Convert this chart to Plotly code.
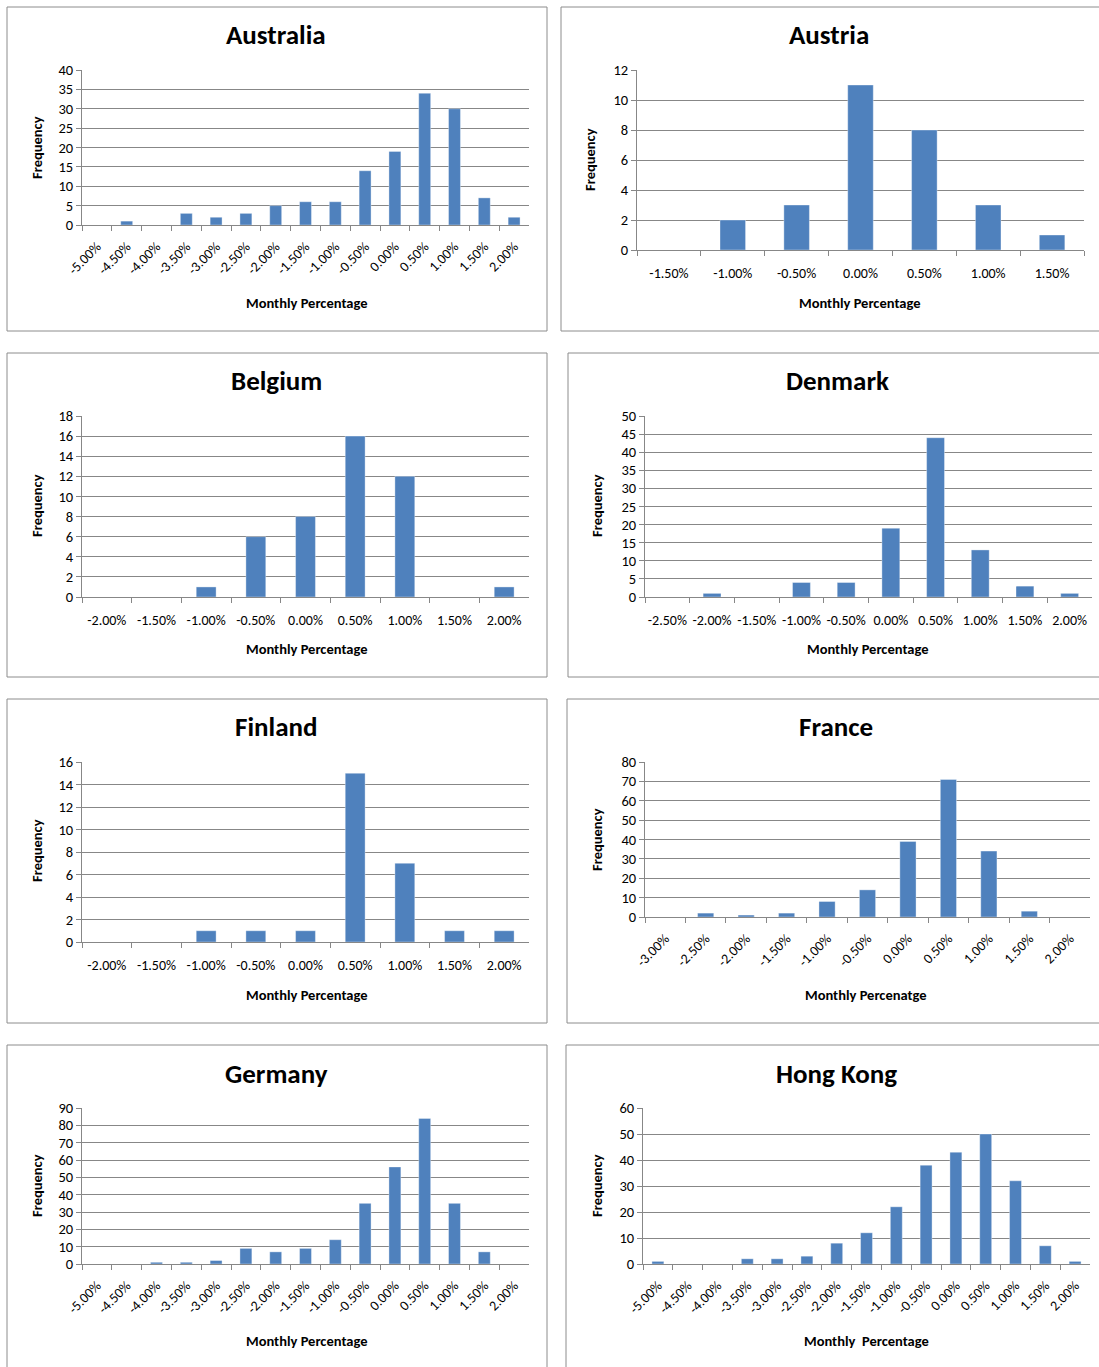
import plotly.graph_objects as go

W, H = 1099, 1367

# ---------------- data ----------------
australia_bins = ["-5.00%", "-4.50%", "-4.00%", "-3.50%", "-3.00%", "-2.50%", "-2.00%", "-1.50%",
                  "-1.00%", "-0.50%", "0.00%", "0.50%", "1.00%", "1.50%", "2.00%"]
australia_freq = [0, 1, 0, 3, 2, 3, 5, 6, 6, 14, 19, 34, 30, 7, 2]

austria_bins = ["-1.50%", "-1.00%", "-0.50%", "0.00%", "0.50%", "1.00%", "1.50%"]
austria_freq = [0, 2, 3, 11, 8, 3, 1]

belgium_bins = ["-2.00%", "-1.50%", "-1.00%", "-0.50%", "0.00%", "0.50%", "1.00%", "1.50%", "2.00%"]
belgium_freq = [0, 0, 1, 6, 8, 16, 12, 0, 1]

denmark_bins = ["-2.50%", "-2.00%", "-1.50%", "-1.00%", "-0.50%", "0.00%", "0.50%", "1.00%", "1.50%", "2.00%"]
denmark_freq = [0, 1, 0, 4, 4, 19, 44, 13, 3, 1]

finland_bins = ["-2.00%", "-1.50%", "-1.00%", "-0.50%", "0.00%", "0.50%", "1.00%", "1.50%", "2.00%"]
finland_freq = [0, 0, 1, 1, 1, 15, 7, 1, 1]

france_bins = ["-3.00%", "-2.50%", "-2.00%", "-1.50%", "-1.00%", "-0.50%", "0.00%", "0.50%",
               "1.00%", "1.50%", "2.00%"]
france_freq = [0, 2, 1, 2, 8, 14, 39, 71, 34, 3, 0]

germany_bins = ["-5.00%", "-4.50%", "-4.00%", "-3.50%", "-3.00%", "-2.50%", "-2.00%", "-1.50%",
                "-1.00%", "-0.50%", "0.00%", "0.50%", "1.00%", "1.50%", "2.00%"]
germany_freq = [0, 0, 1, 1, 2, 9, 7, 9, 14, 35, 56, 84, 35, 7, 0]

hongkong_bins = ["-5.00%", "-4.50%", "-4.00%", "-3.50%", "-3.00%", "-2.50%", "-2.00%", "-1.50%",
                 "-1.00%", "-0.50%", "0.00%", "0.50%", "1.00%", "1.50%", "2.00%"]
hongkong_freq = [1, 0, 0, 2, 2, 3, 8, 12, 22, 38, 43, 50, 32, 7, 1]

titles = ["Australia", "Austria", "Belgium", "Denmark", "Finland", "France", "Germany", "Hong Kong"]
x_titles = ["Monthly Percentage", "Monthly Percentage", "Monthly Percentage", "Monthly Percentage",
            "Monthly Percentage", "Monthly Percenatge", "Monthly Percentage", "Monthly  Percentage"]
y_title = "Frequency"
y_max = [40, 12, 18, 50, 16, 80, 90, 60]
y_step = [5, 2, 2, 5, 2, 10, 10, 10]

series = [(australia_bins, australia_freq), (austria_bins, austria_freq),
          (belgium_bins, belgium_freq), (denmark_bins, denmark_freq),
          (finland_bins, finland_freq), (france_bins, france_freq),
          (germany_bins, germany_freq), (hongkong_bins, hongkong_freq)]

# ---------------- layout geometry (pixels) ----------------
boxes = [(7, 7, 547, 331), (561, 7, 1103, 331),
         (7, 353, 547, 677), (568, 353, 1103, 677),
         (7, 699, 547, 1023), (567, 699, 1103, 1023),
         (7, 1045, 547, 1372), (566, 1045, 1103, 1372)]
plots = [(82, 529, 70, 225), (637, 1084, 70, 250),
         (82, 529, 416, 597), (645, 1092, 416, 597),
         (82, 529, 762, 942), (645, 1090, 762, 917),
         (82, 529, 1108, 1264), (643, 1090, 1108, 1264)]
rotated = [True, False, False, False, False, True, True, True]
title_pos = [(276, 35), (829, 35), (276, 381), (837, 381),
             (276, 727), (836, 727), (276, 1073), (836, 1073)]
xtitle_pos = [(306, 303), (859, 303), (306, 649), (867, 649),
              (306, 995), (866, 995), (306, 1341), (866, 1341)]
ytitle_pos = [(37, 148), (590, 160), (37, 506), (597, 506),
              (37, 851), (597, 840), (37, 1186), (597, 1186)]

BAR = "#4F81BD"
GRID = "#878787"
FONT = "Carlito, Lato, 'Open Sans', sans-serif"

fig = go.Figure()
layout = dict(width=W, height=H, margin=dict(l=0, r=0, t=0, b=0, pad=0), autosize=False,
              paper_bgcolor="white", plot_bgcolor="white", showlegend=False,
              bargap=0.6, font=dict(family=FONT, color="black"))
shapes, annotations = [], []


def px_x(v):
    return v / W


def px_y(v):
    return 1 - v / H


for i, ((cats, vals), title) in enumerate(zip(series, titles)):
    n = i + 1
    xa = "xaxis" if n == 1 else f"xaxis{n}"
    ya = "yaxis" if n == 1 else f"yaxis{n}"
    xr = "x" if n == 1 else f"x{n}"
    yr = "y" if n == 1 else f"y{n}"
    fig.add_trace(go.Bar(x=cats, y=vals, xaxis=xr, yaxis=yr,
                         marker=dict(color=BAR, line=dict(color="rgba(255,255,255,0.6)", width=0.6))))
    px0, px1, ptop, pbot = plots[i]
    layout[xa] = dict(domain=[px_x(px0), px_x(px1)], anchor=yr, type="category", automargin=False,
                      range=[-0.5, len(cats) - 0.5], showgrid=False, showline=True,
                      linecolor=GRID, linewidth=1, ticks="outside", tickson="boundaries",
                      ticklen=5, tickcolor=GRID, tickwidth=1,
                      tickangle=-45 if rotated[i] else 0,
                      ticklabelstandoff=7 if rotated[i] else 10,
                      tickfont=dict(size=14, family=FONT, color="black"), fixedrange=True)
    layout[ya] = dict(domain=[px_y(pbot), px_y(ptop)], anchor=xr, automargin=False,
                      range=[0, y_max[i]], dtick=y_step[i], tick0=0,
                      showgrid=True, gridcolor=GRID, gridwidth=1,
                      showline=True, linecolor=GRID, linewidth=1,
                      ticks="outside", ticklen=5, tickcolor=GRID,
                      tickfont=dict(size=14.5, family=FONT, color="black"),
                      zeroline=False, fixedrange=True)
    bx0, by0, bx1, by1 = boxes[i]
    shapes.append(dict(type="rect", xref="paper", yref="paper",
                       x0=px_x(bx0), x1=px_x(bx1), y0=px_y(by1), y1=px_y(by0),
                       line=dict(color="#8C8C8C", width=1), fillcolor="rgba(0,0,0,0)"))
    tx, ty = title_pos[i]
    annotations.append(dict(text=f"<b>{title}</b>", x=px_x(tx), y=px_y(ty), xref="paper", yref="paper",
                            showarrow=False, xanchor="center", yanchor="middle",
                            font=dict(size=27, family=FONT, color="black")))
    xx, xy = xtitle_pos[i]
    annotations.append(dict(text=f"<b>{x_titles[i]}</b>", x=px_x(xx), y=px_y(xy), xref="paper", yref="paper",
                            showarrow=False, xanchor="center", yanchor="middle",
                            font=dict(size=14.5, family=FONT, color="black")))
    yx, yy = ytitle_pos[i]
    annotations.append(dict(text=f"<b>{y_title}</b>", x=px_x(yx), y=px_y(yy), xref="paper", yref="paper",
                            showarrow=False, xanchor="center", yanchor="middle", textangle=-90,
                            font=dict(size=14.5, family=FONT, color="black")))

layout["shapes"] = shapes
layout["annotations"] = annotations
fig.update_layout(**layout)
fig.write_html("out.html", config={"displayModeBar": False},
               post_script="document.body.style.margin='0';document.body.style.overflow='hidden';")
